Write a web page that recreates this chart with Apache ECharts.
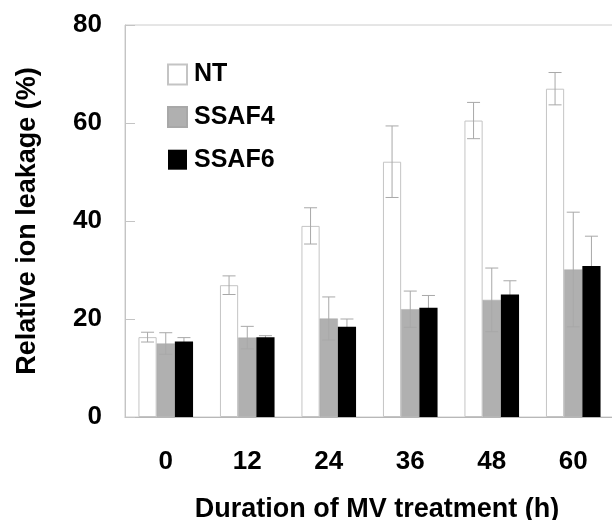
<!DOCTYPE html>
<html>
<head>
<meta charset="utf-8">
<script src="https://cdn.jsdelivr.net/npm/echarts@6/dist/echarts.min.js"></script>
<style>html,body{margin:0;padding:0;background:#fff;}#c{width:612px;height:520px;}</style>
</head>
<body>
<div id="c"></div>
<script>
var categories = ['0', '12', '24', '36', '48', '60'];
var ntValues = [16.3, 26.9, 39.0, 52.1, 60.5, 67.0];
var ntErrors = [1.0, 1.9, 3.7, 7.3, 3.7, 3.3];
var ssaf4Values = [15.0, 16.2, 20.1, 22.0, 23.9, 30.1];
var ssaf4Errors = [2.2, 2.3, 4.4, 3.7, 6.5, 11.7];
var ssaf6Values = [15.4, 16.3, 18.4, 22.3, 25.0, 30.8];
var ssaf6Errors = [0.8, 0.3, 1.6, 2.5, 2.8, 6.1];
var yTicks = [0, 20, 40, 60, 80];

var FONT = '"Liberation Sans", Arial, sans-serif';
var CAT_GAP = 0.33;

function errData(vals, errs) {
  return vals.map(function (v, i) { return [i, v, errs[i]]; });
}
function errRender(idx) {
  return function (params, api) {
    var ci = api.value(0), v = api.value(1), e = api.value(2);
    var base = api.coord([ci, v]);
    var catW = api.size([1, 0])[0];
    var bw = catW * (1 - CAT_GAP) / 3;
    var cx = base[0] + (idx - 1) * bw;
    var yt = api.coord([ci, v + e])[1];
    var yb = api.coord([ci, v - e])[1];
    var hw = 6.5;
    var st = { stroke: '#a8a8a8', lineWidth: 1 };
    return {
      type: 'group',
      children: [
        { type: 'line', shape: { x1: cx, y1: yt, x2: cx, y2: yb }, style: st },
        { type: 'line', shape: { x1: cx - hw, y1: yt, x2: cx + hw, y2: yt }, style: st },
        { type: 'line', shape: { x1: cx - hw, y1: yb, x2: cx + hw, y2: yb }, style: st }
      ]
    };
  };
}

var chart = echarts.init(document.getElementById('c'), null, { renderer: 'canvas' });
chart.setOption({
  animation: false,
  backgroundColor: '#fff',
  grid: { left: 125, top: 25, right: -2, bottom: 103, outerBoundsMode: 'none', containLabel: false,
    show: true, borderColor: '#cccccc', borderWidth: 1, backgroundColor: 'transparent' },
  legend: {
    orient: 'vertical', left: 167, top: 62, padding: 0, itemWidth: 19, itemHeight: 20, itemGap: 17.6,
    icon: 'rect',
    data: ['NT', 'SSAF4', 'SSAF6'],
    textStyle: { fontFamily: FONT, fontWeight: 'bold', fontSize: 25, color: '#000', padding: [0, 0, 0, 2] }
  },
  xAxis: {
    type: 'category', data: categories,
    name: 'Duration of MV treatment (h)', nameLocation: 'middle', nameGap: 79,
    nameTextStyle: { fontFamily: FONT, fontWeight: 'bold', fontSize: 27, color: '#000', padding: [0, 0, 0, 15] },
    axisLine: { lineStyle: { color: '#b8b8b8', width: 1 } },
    axisTick: { inside: true, length: 8, lineStyle: { color: '#b8b8b8' } },
    axisLabel: { fontFamily: FONT, fontWeight: 'bold', fontSize: 26, color: '#000', margin: 32 },
    splitLine: { show: false }
  },
  yAxis: {
    type: 'value', min: 0, max: 80, interval: 20,
    name: 'Relative ion leakage (%)', nameLocation: 'middle', nameGap: 84, nameRotate: 90,
    nameTextStyle: { fontFamily: FONT, fontWeight: 'bold', fontSize: 27, color: '#000' },
    axisLine: { show: true, lineStyle: { color: '#c4c4c4', width: 1 } },
    axisTick: { show: true, inside: true, length: 10, lineStyle: { color: '#c4c4c4' } },
    axisLabel: { fontFamily: FONT, fontWeight: 'bold', fontSize: 26, color: '#000', margin: 23,
      formatter: function (v) { return yTicks.indexOf(v) >= 0 ? String(v) : ''; } },
    splitLine: { show: false }
  },
  series: [
    { name: 'NT', type: 'bar', data: ntValues, barGap: '0%', barCategoryGap: (CAT_GAP * 100) + '%', z: 2,
      itemStyle: { color: '#ffffff', borderColor: '#c4c4c4', borderWidth: 1 } },
    { name: 'SSAF4', type: 'bar', data: ssaf4Values, barGap: '0%', barCategoryGap: (CAT_GAP * 100) + '%', z: 2,
      itemStyle: { color: '#b0b0b0', borderColor: '#a8a8a8', borderWidth: 0.5 } },
    { name: 'SSAF6', type: 'bar', data: ssaf6Values, barGap: '0%', barCategoryGap: (CAT_GAP * 100) + '%', z: 2,
      itemStyle: { color: '#000000' } },
    { type: 'custom', data: errData(ntValues, ntErrors), renderItem: errRender(0), encode: { x: 0, y: 1 }, z: 3, silent: true },
    { type: 'custom', data: errData(ssaf4Values, ssaf4Errors), renderItem: errRender(1), encode: { x: 0, y: 1 }, z: 3, silent: true },
    { type: 'custom', data: errData(ssaf6Values, ssaf6Errors), renderItem: errRender(2), encode: { x: 0, y: 1 }, z: 1, silent: true }
  ]
});
</script>
</body>
</html>
